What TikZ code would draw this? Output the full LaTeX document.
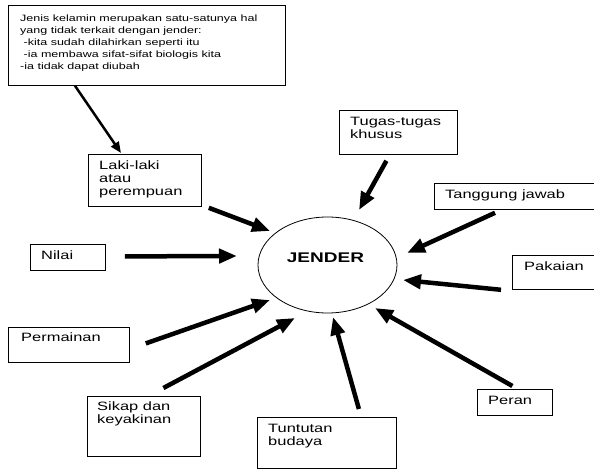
\documentclass[tikz,border=0pt]{standalone}
\usepackage{fontspec}
\usetikzlibrary{arrows.meta,shapes.geometric}
\newfontfamily\DiagFont{Liberation Sans}[FakeStretch=1.36]

\begin{document}
\begin{tikzpicture}[x=1pt,y=-1pt,
  box/.style={draw,line width=0.8pt,anchor=north west,inner sep=0pt},
  lbl/.style={anchor=north west,inner sep=0pt,align=left,font=\DiagFont\fontsize{12.1}{13}\selectfont},
  notelbl/.style={lbl,font=\DiagFont\fontsize{9.2}{12}\selectfont},
  arr/.style={line width=4.5pt,-{Triangle[length=18pt,width=14pt]}},
  thinarr/.style={line width=2.5pt,-{Triangle[length=11pt,width=9pt]}}]
\useasboundingbox (0,0) rectangle (594,470);

% centre
\node[draw,ellipse,line width=0.8pt,minimum width=139pt,minimum height=96pt,inner sep=0pt] (jender) at (327.5,265) {};
\node[font=\DiagFont\bfseries\fontsize{14}{16}\selectfont] (jenderT) at ([shift={(-2,-7)}]jender.center) {JENDER};

% boxes
\node[box,minimum width=277pt,minimum height=80pt] (note) at (8,5) {};
\node[notelbl] (noteT) at ([shift={(12,10)}]note.north west)
  {Jenis kelamin merupakan satu-satunya hal\\yang tidak terkait dengan jender:\\\ -kita sudah dilahirkan seperti itu\\\ -ia membawa sifat-sifat biologis kita\\-ia tidak dapat diubah};

\node[box,minimum width=113pt,minimum height=52pt] (laki) at (88,154) {};
\node[lbl] (lakiT) at ([shift={(11,7)}]laki.north west) {Laki-laki\\atau\\perempuan};

\node[box,minimum width=75pt,minimum height=26pt] (nilai) at (30,244) {};
\node[lbl] (nilaiT) at ([shift={(11,7)}]nilai.north west) {Nilai};

\node[box,minimum width=118pt,minimum height=44pt] (tugas) at (339,110) {};
\node[lbl] (tugasT) at ([shift={(11,7)}]tugas.north west) {Tugas-tugas\\khusus};

\node[box,minimum width=159.5pt,minimum height=26pt] (tanggung) at (434,183) {};
\node[lbl] (tanggungT) at ([shift={(11,7)}]tanggung.north west) {Tanggung jawab};

\node[box,minimum width=81.5pt,minimum height=34pt] (pakaian) at (512,255) {};
\node[lbl] (pakaianT) at ([shift={(12,7)}]pakaian.north west) {Pakaian};

\node[box,minimum width=121pt,minimum height=35pt] (permainan) at (8,327) {};
\node[lbl] (permainanT) at ([shift={(13,6)}]permainan.north west) {Permainan};

\node[box,minimum width=113pt,minimum height=60pt] (sikap) at (87,396) {};
\node[lbl] (sikapT) at ([shift={(10,6)}]sikap.north west) {Sikap dan\\keyakinan};

\node[box,minimum width=139pt,minimum height=51pt] (tuntutan) at (257,417) {};
\node[lbl] (tuntutanT) at ([shift={(11,7)}]tuntutan.north west) {Tuntutan\\budaya};

\node[box,minimum width=75pt,minimum height=26pt] (peran) at (477,389) {};
\node[lbl] (peranT) at ([shift={(11,7)}]peran.north west) {Peran};

% arrows
\draw[thinarr] ([shift={(67,0)}]note.south west) -- ([shift={(33,-1)}]laki.north west);
\draw[arr] ([shift={(7,1)}]laki.south east) -- ([shift={(-57.5,-34)}]jender.center);
\draw[arr] ([shift={(19,-1)}]nilai.east) -- ([shift={(-90.5,-9)}]jender.center);
\draw[arr] ([shift={(-12,6)}]tugas.south) -- ([shift={(31.5,-55)}]jender.center);
\draw[arr] ([shift={(61,3)}]tanggung.south west) -- ([shift={(79.5,-12)}]jender.center);
\draw[arr] ([shift={(-11,0)}]pakaian.south west) -- ([shift={(75.5,15)}]jender.center);
\draw[arr] ([shift={(16,-1.5)}]permainan.east) -- ([shift={(-57.5,35)}]jender.center);
\draw[arr] ([shift={(19.5,-8)}]sikap.north) -- ([shift={(-32.5,53)}]jender.center);
\draw[arr] ([shift={(32,-8)}]tuntutan.north) -- ([shift={(5.5,52)}]jender.center);
\draw[arr] ([shift={(-2.5,-3)}]peran.north) -- ([shift={(47.5,43)}]jender.center);

\end{tikzpicture}
\end{document}
